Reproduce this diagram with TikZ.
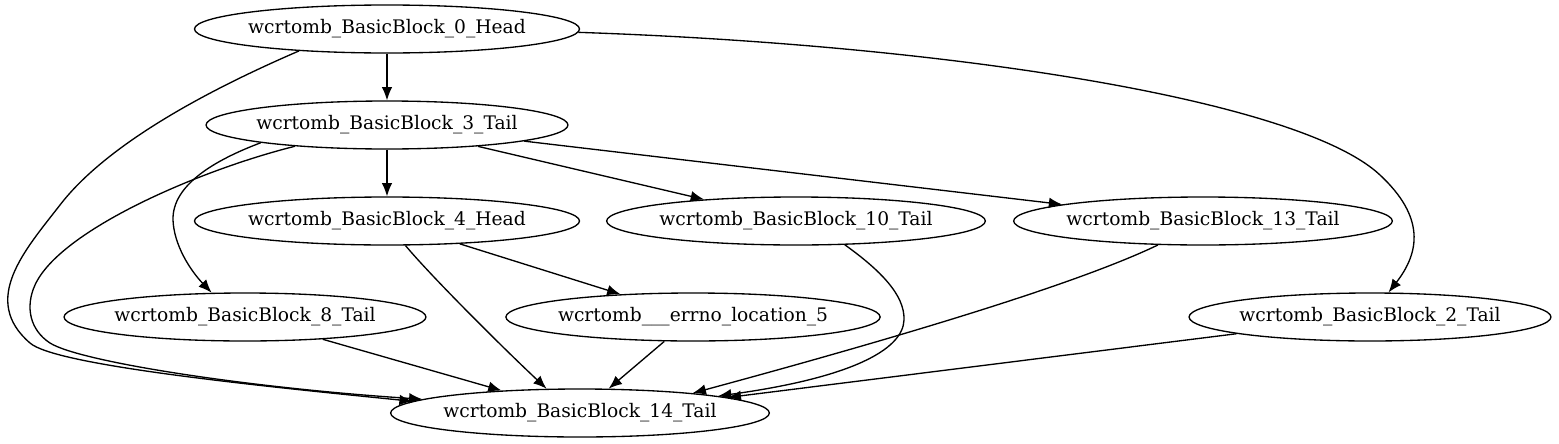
\documentclass[tikz,border=0pt]{standalone}
\usepackage{fontspec}
\setmainfont{DejaVu Serif}
\usetikzlibrary{shapes.geometric}
\usetikzlibrary{arrows.meta}

\tikzset{
  block/.style={ellipse, draw, line width=1pt, inner xsep=-2pt, inner ysep=0pt,
    minimum height=36pt, font=\fontsize{14}{17}\selectfont},
  flow/.style={line width=1pt, -{Latex[length=10pt,width=8pt]}}
}

\begin{document}
\begin{tikzpicture}[x=0.75pt,y=-0.75pt]
	\useasboundingbox (0,0) rectangle (1559,443);

	% top
	\node[block] (bb0) at (387,29) {wcrtomb\_BasicBlock\_0\_Head};
	\node[block] (bb3) at (387,125) {wcrtomb\_BasicBlock\_3\_Tail};

	% middle row
	\node[block] (bb4) at (387,221) {wcrtomb\_BasicBlock\_4\_Head};
	\node[block] (bb10) at (796,221) {wcrtomb\_BasicBlock\_10\_Tail};
	\node[block] (bb13) at (1203,221) {wcrtomb\_BasicBlock\_13\_Tail};

	% lower row
	\node[block] (bb8) at (245,317) {wcrtomb\_BasicBlock\_8\_Tail};
	\node[block] (errno5) at (693,317) {wcrtomb\_\_\_errno\_location\_5};
	\node[block] (bb2) at (1370,317) {wcrtomb\_BasicBlock\_2\_Tail};

	% exit
	\node[block] (bb14) at (580,413) {wcrtomb\_BasicBlock\_14\_Tail};

	% straight edges
	\draw[flow] (bb0) -- (bb3);
	\draw[flow] (bb3) -- (bb4);
	\draw[flow] (bb3) -- (bb10);
	\draw[flow] (bb3) -- (bb13);
	\draw[flow] (bb4) -- (errno5);
	\draw[flow] (errno5) -- (bb14);
	\draw[flow] (bb8) -- (bb14);
	\draw[flow] (bb2) -- (bb14.6);

	% curved edges
	\draw[flow] (bb0.194) .. controls (220,85) and (110,140) .. (60,205)
		.. controls (25,250) and (-20,300) .. (30,343)
		.. controls (55,365) and (250,385) .. (bb14.176);
	\draw[flow] (bb0.-1) .. controls (950,45) and (1300,100) .. (1380,175)
		.. controls (1425,217) and (1420,252) .. (bb2.53);
	\draw[flow] (bb3.193) .. controls (200,170) and (60,230) .. (35,285)
		.. controls (25,307) and (30,330) .. (50,343)
		.. controls (80,362) and (250,388) .. (bb14.175);
	\draw[flow] (bb3.188) .. controls (215,160) and (172,185) .. (173,220)
		.. controls (174,245) and (190,270) .. (bb8.144);
	\draw[flow] (bb4.-53) .. controls (430,275) and (500,345) .. (bb14.144);
	\draw[flow] (bb10.-26) .. controls (880,270) and (905,295) .. (904,320)
		.. controls (903,350) and (850,378) .. (bb14.7);
	\draw[flow] (bb13.208) .. controls (1110,268) and (1000,310) .. (bb14.10);
\end{tikzpicture}
\end{document}
